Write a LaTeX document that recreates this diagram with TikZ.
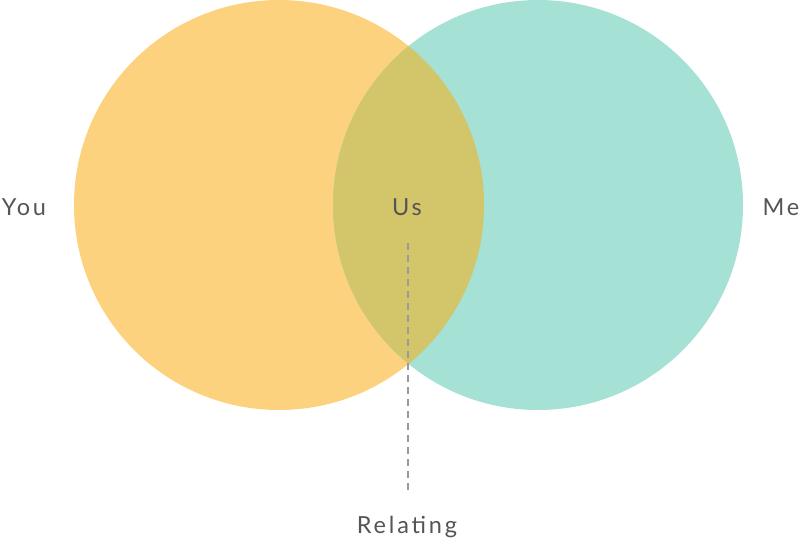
\documentclass[tikz,border=0pt]{standalone}
\usepackage{fontspec}
\setmainfont{Lato}[LetterSpace=12]
\usetikzlibrary{positioning}
\definecolor{youfill}{HTML}{FDD27F}
\definecolor{mefill}{HTML}{A5E1D5}
\definecolor{usfill}{HTML}{D2C56A}
\definecolor{labelgray}{HTML}{555555}
\definecolor{dashgray}{HTML}{9A9A9A}

\begin{document}
\begin{tikzpicture}[x=1pt,y=-1pt]
\tikzset{
  setcircle/.style={circle,minimum size=410pt,inner sep=0pt,draw=none},
  setlabel/.style={font=\fontsize{23.5}{26}\selectfont,text=labelgray,inner sep=0pt},
  pointer/.style={draw=dashgray,line width=1.3pt,dash pattern=on 7pt off 5pt}
}
\useasboundingbox (0,0) rectangle (800,542);
\node[setcircle,fill=youfill] (c_you) at (279,205) {};
\node[setcircle,fill=mefill] (c_me) at (538,205) {};
\begin{scope}
  \clip (279,205) circle (205);
  \fill[usfill] (538,205) circle (205);
\end{scope}
\node[setlabel] (t_you) at (24,207) {You};
\node[setlabel] (t_us) at (407,207) {Us};
\node[setlabel] (t_me) at (781,207) {Me};
\node[setlabel] (t_rel) at (407,527) {Relating};
\coordinate (p_top) at (408,243);
\coordinate (p_bot) at (408,492);
\draw[pointer] (p_top) -- (p_bot);
\end{tikzpicture}
\end{document}
